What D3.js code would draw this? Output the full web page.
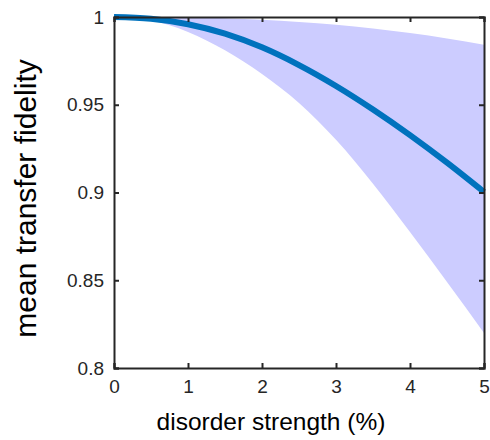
<!DOCTYPE html>
<html>
<head>
<meta charset="utf-8">
<script src="https://cdn.jsdelivr.net/npm/d3@7"></script>
<style>
  body { margin: 0; background: #fff; }
  svg { display: block; font-family: "Liberation Sans", Arial, Helvetica, sans-serif; }
</style>
</head>
<body>
<svg id="chart" width="490" height="440"></svg>
<script>
// disorder strength (%) sample points
const strength = [0, 0.5, 1, 1.5, 2, 2.5, 3, 3.5, 4, 4.5, 5];
// mean transfer fidelity and the spread band around it
const meanFidelity = [1.0, 0.9990, 0.9959, 0.9905, 0.9827, 0.9726, 0.9607, 0.9473, 0.9327, 0.9170, 0.9003];
const upperFidelity = [1.0, 0.99995, 0.9998, 0.9993, 0.9984, 0.9972, 0.9956, 0.9935, 0.9909, 0.9878, 0.9842];
const lowerFidelity = [1.0, 0.9980, 0.9915, 0.9810, 0.9675, 0.9510, 0.9300, 0.9050, 0.8775, 0.8490, 0.8200];

const xTicks = [0, 1, 2, 3, 4, 5];
const yTicks = [0.8, 0.85, 0.9, 0.95, 1];

const data = strength.map((s, i) => ({
  x: s, mean: meanFidelity[i], lo: lowerFidelity[i], hi: upperFidelity[i]
}));

const svg = d3.select("#chart");
const margin = { top: 17, right: 6, bottom: 72, left: 114 };
const width = 490 - margin.left - margin.right;
const height = 440 - margin.top - margin.bottom;
const axisColor = "#262626";

const xScale = d3.scaleLinear().domain([0, 5]).range([margin.left, margin.left + width]);
const yScale = d3.scaleLinear().domain([0.8, 1]).range([margin.top + height, margin.top]);

// clip for the shaded band
svg.append("clipPath").attr("id", "plot-clip")
  .append("rect")
  .attr("x", margin.left).attr("y", margin.top)
  .attr("width", width).attr("height", height);

// shaded band between lower and upper fidelity
const band = d3.area()
  .x(d => xScale(d.x))
  .y0(d => yScale(d.lo))
  .y1(d => yScale(d.hi))
  .curve(d3.curveMonotoneX);

svg.append("path")
  .datum(data)
  .attr("clip-path", "url(#plot-clip)")
  .attr("fill", "#ccccff")
  .attr("d", band);

// mean line
const line = d3.line()
  .x(d => xScale(d.x))
  .y(d => yScale(d.mean))
  .curve(d3.curveMonotoneX);

svg.append("path")
  .datum(data)
  .attr("fill", "none")
  .attr("stroke", "#0072BD")
  .attr("stroke-width", 6)
  .attr("d", line);

// axes, ticks pointing inward, box on all sides
const tickLen = 5;
const xAxis = d3.axisBottom(xScale).tickValues(xTicks).tickSize(-tickLen).tickPadding(12).tickFormat(d3.format("d"));
const yAxis = d3.axisLeft(yScale).tickValues(yTicks).tickSize(-tickLen).tickPadding(10).tickFormat(d => d3.format("")(d));
const xAxisTop = d3.axisTop(xScale).tickValues(xTicks).tickSize(-tickLen).tickFormat("");
const yAxisRight = d3.axisRight(yScale).tickValues(yTicks).tickSize(-tickLen).tickFormat("");

function styleAxis(g) {
  g.select(".domain").attr("stroke", axisColor).attr("stroke-width", 2);
  g.selectAll(".tick line").attr("stroke", axisColor).attr("stroke-width", 2);
  g.selectAll(".tick text").attr("fill", axisColor).style("font-size", "19px");
}

svg.append("g")
  .attr("transform", `translate(0, ${margin.top + height})`)
  .call(xAxis).call(styleAxis);

svg.append("g")
  .attr("transform", `translate(${margin.left}, 0)`)
  .call(yAxis).call(styleAxis);

svg.append("g")
  .attr("transform", `translate(0, ${margin.top})`)
  .call(xAxisTop).call(styleAxis);

svg.append("g")
  .attr("transform", `translate(${margin.left + width}, 0)`)
  .call(yAxisRight).call(styleAxis);

// axis labels (x label sits a bit left of the plot centre, as in the original)
svg.append("text")
  .attr("x", 271)
  .attr("y", 430)
  .attr("text-anchor", "middle")
  .attr("fill", "#000")
  .style("font-size", "24.5px")
  .text("disorder strength (%)");

svg.append("text")
  .attr("transform", `translate(36, ${margin.top + height / 2 + 6}) rotate(-90)`)
  .attr("text-anchor", "middle")
  .attr("fill", "#000")
  .style("font-size", "30px")
  .text("mean transfer fidelity");
</script>
</body>
</html>
